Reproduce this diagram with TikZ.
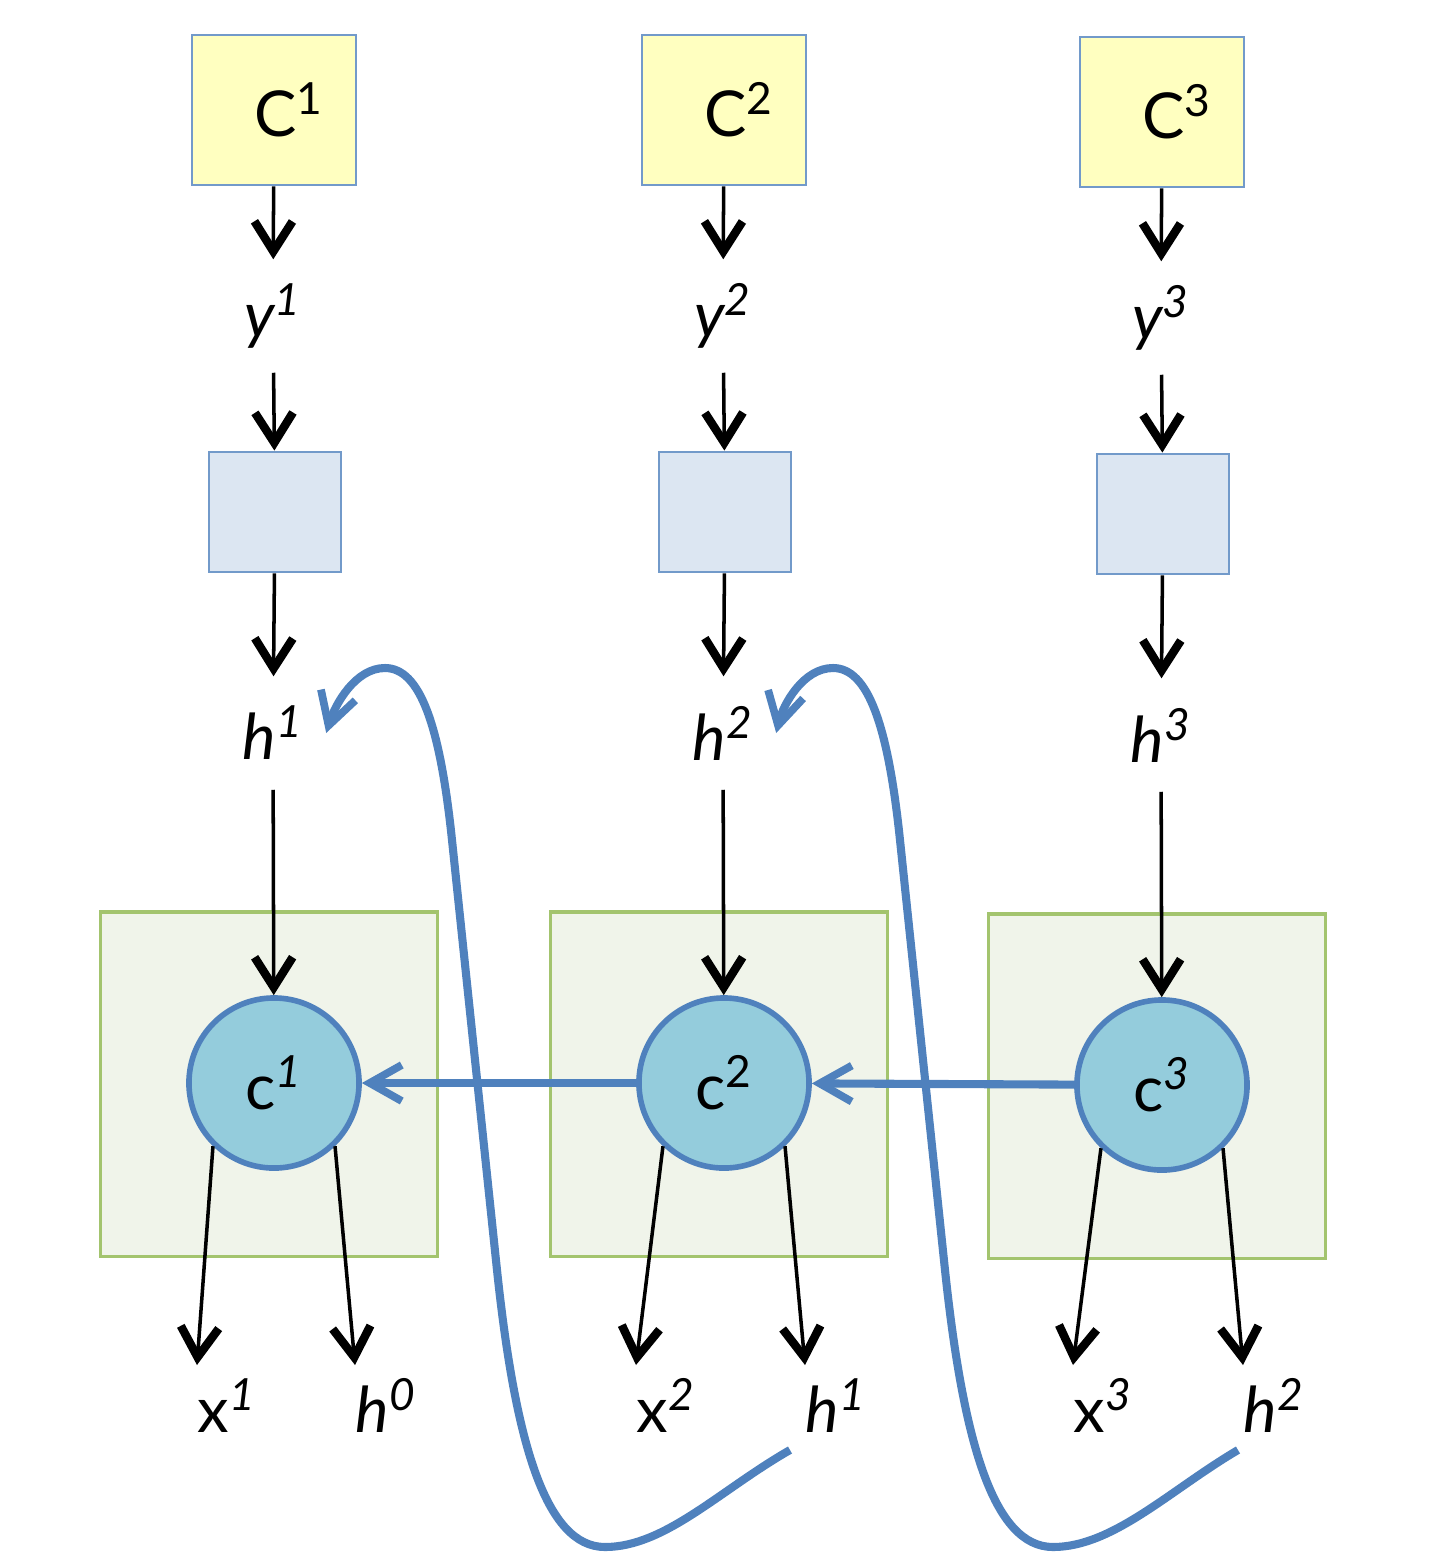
\documentclass[tikz,border=0pt]{standalone}
\usepackage{fontspec}
\setmainfont{Lato}
\usepackage{tikz}
\usetikzlibrary{arrows.meta, calc, positioning}
\definecolor{OffBlue}{RGB}{79, 129, 189}
\definecolor{BoxYellow}{RGB}{255, 255, 192}
\definecolor{BoxBlue}{RGB}{220, 230, 242}
\definecolor{CellGreen}{RGB}{240, 244, 234}
\definecolor{CellEdge}{RGB}{163, 196, 110}
\definecolor{CircFill}{RGB}{148, 204, 220}

\begin{document}
\begin{tikzpicture}[x=0.01cm, y=-0.01cm,
    every node/.style={font=\fontsize{18}{22}\selectfont},
    topbox/.style={rectangle, draw=OffBlue!80, line width=0.8pt, fill=BoxYellow,
      minimum width=1.64cm, minimum height=1.5cm, text centered},
    encbox/.style={rectangle, draw=OffBlue!80, line width=0.8pt, fill=BoxBlue,
      minimum width=1.32cm, minimum height=1.2cm},
    cellbox/.style={rectangle, draw=CellEdge, line width=0.9pt, fill=CellGreen,
      minimum width=3.36cm, minimum height=3.44cm},
    unit/.style={circle, draw=OffBlue, line width=1.6pt, fill=CircFill,
      minimum size=1.7cm, inner sep=0pt},
    lbl/.style={inner sep=0pt, inner xsep=0.22cm, minimum height=1.12cm},
    outlbl/.style={inner sep=0pt, minimum height=0.8cm},
    arrow/.style={-{Straight Barb[length=3mm, width=3.8mm, line width=2.4pt]}, line width=1pt},
    recur/.style={-{Straight Barb[length=3.2mm, width=3.6mm, line width=2.2pt]},
      line width=2.3pt, OffBlue}
  ]
  \useasboundingbox (0,0) rectangle (1432,1568);

  % green cells behind the circles
  \node[cellbox] (cell1) at (269,1084) {};
  \node[cellbox] (cell2) at (719,1084) {};
  \node[cellbox] (cell3) at (1157,1086) {};

  % column 1
  \node[topbox] (top1) at (274,110) {\hspace{0.3cm}C\textsuperscript{1}};
  \node[lbl] (y1) at (273,316) {\textit{y\textsuperscript{1}}};
  \node[encbox] (enc1) at (275,512) {};
  \node[lbl] (h1) at (273,733) {\textit{h\textsuperscript{1}}};
  \node[unit] (c1) at (274,1083) {c\textsuperscript{\textit{1}}};
  \node[outlbl, anchor=north west] (x1) at (197,1365) {x\textsuperscript{\textit{1}}};
  \node[outlbl, anchor=north west] (hout1) at (355,1365) {\textit{h\textsuperscript{0}}};

  % column 2
  \node[topbox] (top2) at (724,110) {\hspace{0.3cm}C\textsuperscript{2}};
  \node[lbl] (y2) at (723,316) {\textit{y\textsuperscript{2}}};
  \node[encbox] (enc2) at (725,512) {};
  \node[lbl] (h2) at (723,733) {\textit{h\textsuperscript{2}}};
  \node[unit] (c2) at (724,1083) {c\textsuperscript{2}};
  \node[outlbl, anchor=north west] (x2) at (636,1365) {x\textsuperscript{\textit{2}}};
  \node[outlbl, anchor=north west] (hout2) at (805,1365) {\textit{h\textsuperscript{1}}};

  % column 3
  \node[topbox] (top3) at (1162,112) {\hspace{0.3cm}C\textsuperscript{3}};
  \node[lbl] (y3) at (1161,318) {\textit{y\textsuperscript{3}}};
  \node[encbox] (enc3) at (1163,514) {};
  \node[lbl] (h3) at (1161,735) {\textit{h\textsuperscript{3}}};
  \node[unit] (c3) at (1162,1085) {c\textsuperscript{\textit{3}}};
  \node[outlbl, anchor=north west] (x3) at (1073,1365) {x\textsuperscript{\textit{3}}};
  \node[outlbl, anchor=north west] (hout3) at (1243,1365) {\textit{h\textsuperscript{2}}};

  % vertical flow
  \draw[arrow] (top1) -- (y1);
  \draw[arrow] (y1) -- (enc1);
  \draw[arrow] (enc1) -- (h1);
  \draw[arrow] (h1) -- (c1);
  \draw[arrow] (top2) -- (y2);
  \draw[arrow] (y2) -- (enc2);
  \draw[arrow] (enc2) -- (h2);
  \draw[arrow] (h2) -- (c2);
  \draw[arrow] (top3) -- (y3);
  \draw[arrow] (y3) -- (enc3);
  \draw[arrow] (enc3) -- (h3);
  \draw[arrow] (h3) -- (c3);

  % outputs
  \draw[arrow] (c1.226) -- (x1.north west);
  \draw[arrow] (c1.314) -- (hout1.north west);
  \draw[arrow] (c2.226) -- (x2.north west);
  \draw[arrow] (c2.314) -- (hout2.north west);
  \draw[arrow] (c3.226) -- (x3.north west);
  \draw[arrow] (c3.314) -- (hout3.north west);

  % links between cells
  \draw[recur] (c2) -- (c1);
  \draw[recur] (c3) -- (c2);

  % hidden state fed back up
  \coordinate (r1) at (790,1450);
  \coordinate (r2) at (1238,1450);
  \draw[recur] (r1) .. controls (720,1490) and (665,1547) .. (605,1547)
    .. controls (545,1547) and (515,1440) .. (497,1270) -- (452,840)
    .. controls (440,725) and (420,668) .. (385,668)
    .. controls (355,668) and (335,705) .. (h1.east);
  \draw[recur] (r2) .. controls (1170,1490) and (1113,1547) .. (1053,1547)
    .. controls (993,1547) and (963,1440) .. (945,1270) -- (900,840)
    .. controls (888,725) and (868,668) .. (833,668)
    .. controls (803,668) and (783,705) .. (h2.east);
\end{tikzpicture}
\end{document}
